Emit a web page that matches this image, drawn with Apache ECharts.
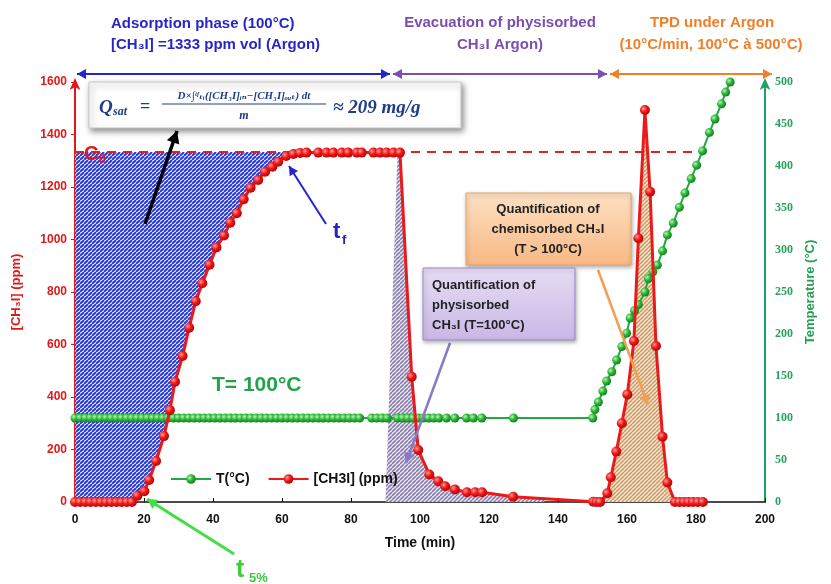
<!DOCTYPE html>
<html><head><meta charset="utf-8">
<script src="https://cdn.jsdelivr.net/npm/echarts@6/dist/echarts.min.js"></script>
<style>html,body{margin:0;padding:0;background:#fff}#c{width:831px;height:584px}</style>
</head><body><div id="c"></div>
<script>
// ---- data ----
const ch3iTime = [0,1.5,3,4.5,6,7.5,9,10.5,12,13.5,15,16.5,
  18.1,20.1,21.5,23.5,25.8,27.5,29.0,31.2,33.1,35.0,36.9,39.0,41.0,43.2,45.0,46.9,48.9,50.9,53.1,55.1,57.2,58.9,61.2,
  63.3,65.2,67.1,70.5,72.9,74.9,77.3,79.2,81.7,83.1,86.5,88.4,90.3,92.3,94.2,
  97.6,99.5,102.7,105.3,107.3,110.1,113.6,116,118,127,150.2,151.2,152.2,
  154.3,155.3,156.9,158.5,160.1,162.0,163.3,165.2,166.7,168.4,170.3,171.7,
  173.9,175.2,176.5,177.8,179.1,180.5,182];
const ch3iValue = [0,0,0,0,0,0,0,0,0,0,0,0,
  24,41,84,156,251,350,458,556,664,765,833,904,970,1015,1064,1100,1153,1197,1227,1258,1277,1296,1318,
  1326,1330,1331,1331,1331,1331,1331,1331,1331,1331,1331,1331,1331,1331,1331,
  477,198,105,79,60,48,37,37,37,20,1,0,0,
  33,94,192,300,410,613,1005,1493,1182,594,249,74,
  0,0,0,0,0,0,0];
const tempTime = [0,1.5,3,4.5,6,7.5,9,10.5,12,13.5,15,16.5,18,19.5,21,22.5,24,25.5,27,28.5,30,31.5,33,34.5,36,37.5,39,40.5,42,43.5,45,46.5,48,49.5,51,52.5,54,55.5,57,58.5,60,61.5,63,64.5,66,67.5,69,70.5,72,73.5,75,76.5,78,79.5,81,82.5,
  86,87.5,89,90.5,93.5,95,96.5,98,99.5,101,102.5,104,105.5,107.7,110.1,113.5,115.5,117.9,127.1,150.1,
  150.7,151.7,153,154.1,155.6,157,158.5,159.9,160.9,162.2,163.3,165.2,166.2,167.5,168.8,170.3,171.7,173.4,175.2,176.8,178.6,180.2,181.9,183.9,185.5,187.4,188.6,189.9];
const tempValue = [100,100,100,100,100,100,100,100,100,100,100,100,100,100,100,100,100,100,100,100,100,100,100,100,100,100,100,100,100,100,100,100,100,100,100,100,100,100,100,100,100,100,100,100,100,100,100,100,100,100,100,100,100,100,100,100,
  100,100,100,100,100,100,100,100,100,100,100,100,100,100,100,100,100,100,100,100,
  110,119,132,144,155,169,185,201,219,228,235,250,266,274,282,299,318,332,351,368,385,401,418,440,456,474,488,500];
const c0Value = 1333;
const c0Range = [0, 181];
const physiStart = [90, 93.5];   // left edge of physisorbed hatch (t at 0, t at C0)
const physiEnd = 136;
const chemiRange = [152.2, 173.9];
const xTicks = {min:0, max:200, interval:20};
const yLeftTicks = {min:0, max:1600, interval:200};
const yRightTicks = {min:0, max:500, interval:50};

// ---- helpers ----
function hatch(fg, bg, period, lw){
  const c = document.createElement('canvas');
  c.width = period; c.height = period;
  const g = c.getContext('2d');
  g.fillStyle = bg; g.fillRect(0,0,period,period);
  g.strokeStyle = fg; g.lineWidth = lw;
  for (let k=-1;k<=1;k++){
    g.beginPath(); g.moveTo(k*period, period); g.lineTo(k*period+period, 0); g.stroke();
  }
  return {type:'pattern', image:c, repeat:'repeat'};
}
const pts = ch3iTime.map((t,i)=>[t, ch3iValue[i]]);
const tpts = tempTime.map((t,i)=>[t, tempValue[i]]);

function polyBlue(){
  const sel = pts.filter(p=>p[0] <= 61.2);
  const poly = [[0, c0Value],[sel[sel.length-1][0], c0Value]];
  for (let i=sel.length-1;i>=0;i--) poly.push(sel[i]);
  poly.push([0,0]);
  return poly;
}
function polyPhysi(){
  const poly = [[physiStart[0],0],[physiStart[1],c0Value]];
  pts.forEach(p=>{ if (p[0]>=94.2 && p[0]<=127) poly.push(p); });
  poly.push([physiEnd, 13]); poly.push([physiEnd,0]);
  return poly;
}
function polyChemi(){
  const poly = [];
  pts.forEach(p=>{ if (p[0]>=chemiRange[0] && p[0]<=chemiRange[1]) poly.push(p); });
  return poly;
}
function fillSeries(name, polyFn, fill, z){
  return {
    type:'custom', name:name, coordinateSystem:'cartesian2d', silent:true, z:z,
    data:[[0,0]],
    renderItem:function(params, api){
      const p = polyFn().map(q=>api.coord(q));
      return {type:'polygon', shape:{points:p}, style:{fill:fill}};
    }
  };
}

function arrow(x1,y1,x2,y2,color,w,head,both){
  const els = [{type:'line', shape:{x1:x1,y1:y1,x2:x2,y2:y2}, style:{stroke:color, lineWidth:w}, z:50}];
  function headAt(xa,ya,xb,yb){
    const a = Math.atan2(yb-ya, xb-xa);
    const L = head, W = head*0.55;
    const bx = xb - L*Math.cos(a), by = yb - L*Math.sin(a);
    els.push({type:'polygon', shape:{points:[[xb,yb],[bx - W*Math.sin(a), by + W*Math.cos(a)],[bx + W*Math.sin(a), by - W*Math.cos(a)]]}, style:{fill:color}, z:51});
  }
  headAt(x1,y1,x2,y2);
  if (both) headAt(x2,y2,x1,y1);
  return els;
}

const redGrad = {type:'radial', x:0.35, y:0.35, r:0.75, colorStops:[{offset:0,color:'#ff9a9a'},{offset:0.45,color:'#f01818'},{offset:1,color:'#a80000'}]};
const greenGrad = {type:'radial', x:0.35, y:0.35, r:0.75, colorStops:[{offset:0,color:'#b8f5b0'},{offset:0.45,color:'#2cb83a'},{offset:1,color:'#0e7018'}]};

const F = 'Liberation Sans, Arial, sans-serif';
const FS = 'Liberation Serif, DejaVu Serif, serif';

const graphics = [];
// top arrows
graphics.push(...arrow(77,74,390,74,'#2424d0',2,9,true));
graphics.push(...arrow(393,74,607,74,'#7a4fb8',2,9,true));
graphics.push(...arrow(610,74,772,74,'#f08028',2,9,true));
// top texts
function txt(x,y,text,opt){
  return Object.assign({type:'text', x:x, y:y, z:60, style:Object.assign({text:text, font:'bold 15px '+F, fill:'#000', textAlign:'left', textVerticalAlign:'middle'}, opt||{})});
}
graphics.push(txt(111,24,'Adsorption phase (100°C)',{fill:'#2626c8'}));
graphics.push(txt(111,45,'[CH₃I] =1333 ppm vol (Argon)',{fill:'#2626c8'}));
graphics.push(txt(500,23,'Evacuation of physisorbed',{fill:'#7a4fb0',textAlign:'center'}));
graphics.push(txt(500,45,'CH₃I Argon)',{fill:'#7a4fb0',textAlign:'center'}));
graphics.push(txt(712,23,'TPD under Argon',{fill:'#f07f28',textAlign:'center'}));
graphics.push(txt(711,45,'(10°C/min, 100°C à 500°C)',{fill:'#f07f28',textAlign:'center'}));
// formula box
graphics.push({type:'rect', shape:{x:89,y:82,width:372,height:46}, style:{fill:'#fff', stroke:'#c8c8c8', lineWidth:1, shadowBlur:6, shadowColor:'rgba(0,0,0,0.45)', shadowOffsetX:2, shadowOffsetY:3}, z:55});
const fc = '#1f3c8c';
graphics.push(txt(99,108,'Q',{font:'italic bold 19px '+FS, fill:fc}));
graphics.push(txt(113,112,'sat',{font:'italic bold 12px '+FS, fill:fc}));
graphics.push(txt(140,107,'=',{font:'bold 18px '+FS, fill:fc}));
graphics.push(txt(244,96,'D×∫ᵗᶠₜᵢ([CH₃I]ᵢₙ−[CH₃I]ₒᵤₜ) dt',{font:'italic bold 11px '+FS, fill:fc, textAlign:'center'}));
graphics.push({type:'line', shape:{x1:162,y1:104,x2:326,y2:104}, style:{stroke:fc, lineWidth:1}, z:60});
graphics.push(txt(244,116,'m',{font:'italic bold 12px '+FS, fill:fc, textAlign:'center'}));
graphics.push(txt(333,108,'≈ 209 mg/g',{font:'italic bold 19px '+FS, fill:fc}));
// black arrow
graphics.push(...arrow(145,224,177,131,'#000',3.5,12,false));
// C0
graphics.push(txt(84,154,'C',{font:'bold 20px '+F, fill:'#e01818', stroke:'#fff', lineWidth:0}));
graphics.push(txt(99,160,'0',{font:'bold 12px '+F, fill:'#e01818'}));
// tf
graphics.push(...arrow(326,224,289,166,'#2424d0',2,9,false));
graphics.push(txt(333,232,'t',{font:'bold 22px '+F, fill:'#2424c8'}));
graphics.push(txt(342,240,'f',{font:'bold 13px '+F, fill:'#2424c8'}));
// T=100
graphics.push(txt(212,385,'T= 100°C',{font:'bold 21px '+F, fill:'#23a24c'}));
// t5%
graphics.push(...arrow(234,554,147,499,'#44dd44',3,10,false));
graphics.push(txt(236,570,'t',{font:'bold 25px '+F, fill:'#3ecb3e'}));
graphics.push(txt(249,578,'5%',{font:'bold 13px '+F, fill:'#3ecb3e'}));
// orange box
graphics.push({type:'rect', shape:{x:466,y:193,width:165,height:72}, style:{fill:{type:'linear',x:0,y:0,x2:0,y2:1,colorStops:[{offset:0,color:'#fde0c2'},{offset:1,color:'#f8b884'}]}, stroke:'#e6a56b', lineWidth:1, shadowBlur:4, shadowColor:'rgba(0,0,0,0.3)', shadowOffsetX:1, shadowOffsetY:2}, z:55});
graphics.push(txt(548,209,'Quantification of',{font:'bold 13px '+F, fill:'#222', textAlign:'center'}));
graphics.push(txt(548,229,'chemisorbed CH₃I',{font:'bold 13px '+F, fill:'#222', textAlign:'center'}));
graphics.push(txt(548,249,'(T > 100°C)',{font:'bold 13px '+F, fill:'#222', textAlign:'center'}));
graphics.push(...arrow(598,270,648,405,'#f0a050',2.5,10,false));
// purple box
graphics.push({type:'rect', shape:{x:423,y:268,width:152,height:72}, style:{fill:{type:'linear',x:0,y:0,x2:0,y2:1,colorStops:[{offset:0,color:'#e6dcf4'},{offset:1,color:'#c9b7e6'}]}, stroke:'#9d8bc9', lineWidth:1, shadowBlur:4, shadowColor:'rgba(0,0,0,0.3)', shadowOffsetX:1, shadowOffsetY:2}, z:55});
graphics.push(txt(432,285,'Quantification of',{font:'bold 13px '+F, fill:'#222'}));
graphics.push(txt(432,305,'physisorbed',{font:'bold 13px '+F, fill:'#222'}));
graphics.push(txt(432,325,'CH₃I (T=100°C)',{font:'bold 13px '+F, fill:'#222'}));
graphics.push(...arrow(450,343,406,463,'#8a78c8',2.5,10,false));

const chart = echarts.init(document.getElementById('c'), null, {renderer:'canvas'});
chart.setOption({
  animation:false,
  backgroundColor:'#fff',
  grid:{left:75, right:66, top:82, bottom:82},
  legend:{
    data:['T(°C)','[CH3I] (ppm)'], left:165, top:467, itemGap:18, itemWidth:40, itemHeight:12,
    textStyle:{fontFamily:F, fontWeight:'bold', fontSize:14, color:'#111'}
  },
  xAxis:{
    type:'value', min:xTicks.min, max:xTicks.max, interval:xTicks.interval,
    name:'Time (min)', nameLocation:'middle', nameGap:34,
    nameTextStyle:{fontFamily:F, fontWeight:'bold', fontSize:14, color:'#111'},
    axisLine:{lineStyle:{color:'#111', width:1.5}},
    axisTick:{inside:true, length:4, lineStyle:{color:'#111'}},
    axisLabel:{fontFamily:F, fontWeight:'bold', fontSize:12, color:'#111', margin:12},
    splitLine:{show:false}
  },
  yAxis:[{
    type:'value', min:yLeftTicks.min, max:yLeftTicks.max, interval:yLeftTicks.interval,
    name:'[CH₃I] (ppm)', nameLocation:'middle', nameGap:52, nameRotate:90,
    nameTextStyle:{fontFamily:F, fontWeight:'bold', fontSize:13, color:'#e01818'},
    axisLine:{show:true, symbol:['none','arrow'], symbolSize:[8,12], symbolOffset:[0,4], lineStyle:{color:'#e01818', width:2}},
    axisTick:{show:true, length:4, lineStyle:{color:'#e01818'}},
    axisLabel:{fontFamily:F, fontWeight:'bold', fontSize:12, color:'#e01818', margin:8, formatter:function(v){return String(v);}},
    splitLine:{show:false}
  },{
    type:'value', min:yRightTicks.min, max:yRightTicks.max, interval:yRightTicks.interval, position:'right',
    name:'Temperature (°C)', nameLocation:'middle', nameGap:32, nameRotate:90,
    nameTextStyle:{fontFamily:F, fontWeight:'bold', fontSize:13, color:'#22a050'},
    axisLine:{show:true, symbol:['none','arrow'], symbolSize:[8,12], symbolOffset:[0,4], lineStyle:{color:'#22a060', width:2}},
    axisTick:{show:false},
    axisLabel:{fontFamily:FS, fontWeight:'bold', fontSize:12, color:'#2aa060', margin:10},
    splitLine:{show:false}
  }],
  series:[
    fillSeries('blueFill', polyBlue, hatch('#2a3ad0','#ffffff',4,2.0), 1),
    fillSeries('physiFill', polyPhysi, hatch('#8a80aa','#ece8f4',4,1.6), 1),
    fillSeries('chemiFill', polyChemi, hatch('#c89a6a','#f6e0c6',4,1.4), 1),
    {
      type:'line', name:'c0', data:[[c0Range[0],c0Value],[c0Range[1],c0Value]], symbol:'none', silent:true, z:3,
      lineStyle:{color:'#e02020', width:2, type:[9,7]}
    },
    {
      type:'line', name:'T(°C)', yAxisIndex:1, data:tpts, z:4,
      symbol:'circle', symbolSize:9,
      lineStyle:{color:'#22a844', width:2},
      itemStyle:{color:greenGrad, borderWidth:0}
    },
    {
      type:'line', name:'[CH3I] (ppm)', yAxisIndex:0, data:pts, z:5,
      symbol:'circle', symbolSize:10,
      lineStyle:{color:'#ea1a1a', width:3},
      itemStyle:{color:redGrad, borderWidth:0}
    }
  ],
  graphic:graphics
});
</script></body></html>
